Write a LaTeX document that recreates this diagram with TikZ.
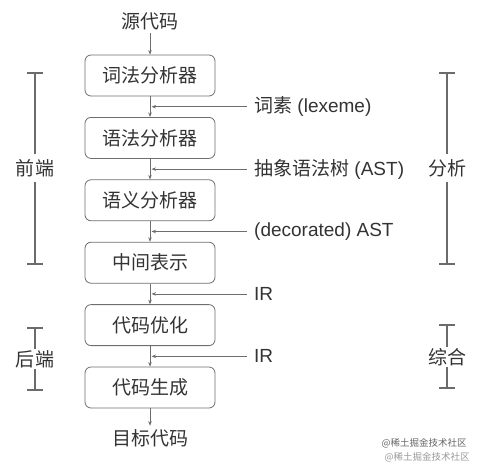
\documentclass[tikz,border=0pt]{standalone}
\usepackage{fontspec}
\setmainfont{Liberation Sans}
\newfontfamily\cjk{Noto Sans CJK SC}
\usetikzlibrary{
  arrows.meta % Stealth 箭头
}
\definecolor{boxgray}{HTML}{6E6E6E}
\definecolor{txtgray}{HTML}{333333}
\definecolor{bargray}{HTML}{6B6B6B}

\begin{document}
\begin{tikzpicture}[x=1pt, y=-1pt, >={Stealth[length=4.5pt, width=3.5pt]},
    stage/.style={draw=boxgray, line width=0.8pt, rounded corners=6pt,
      minimum width=130pt, minimum height=41pt, text=txtgray,
      font=\cjk\fontsize{19}{22}\selectfont},
    plain/.style={text=txtgray, font=\fontsize{19}{22}\selectfont},
    flow/.style={draw=boxgray, line width=0.6pt, ->},
    bracket/.style={draw=bargray, line width=2pt},
    sidetag/.style={text=txtgray, font=\cjk\fontsize{19}{22}\selectfont,
      inner xsep=0pt, inner ysep=5pt}]
    \useasboundingbox (0,0) rectangle (486,474);

    % 各阶段方框
    \foreach \name/\txt [count=\i] in {lex/词法分析器, syn/语法分析器,
        sem/语义分析器, ir/中间表示, opt/代码优化, gen/代码生成}
      \node[stage] (\name) at (150, {75.5+62.4*(\i-1)}) {\txt};

    % 输入与输出
    \node[plain] (src) at (150, 21) {\cjk 源代码};
    \node[plain] (dst) at (150, 438) {\cjk 目标代码};

    % 纵向箭头
    \draw[flow] (src) -- (lex);
    \draw[flow] (lex) -- (syn);
    \draw[flow] (syn) -- (sem);
    \draw[flow] (sem) -- (ir);
    \draw[flow] (ir) -- (opt);
    \draw[flow] (opt) -- (gen);
    \draw[flow] (gen) -- (dst);

    % 中间产物与横向箭头
    \foreach \txt [count=\i] in {{\cjk 词素} (lexeme), {\cjk 抽象语法树} (AST),
        (decorated) AST, IR, IR} {
      \coordinate (hit\i) at (151.5, {106.7+62.4*(\i-1)});
      \node[plain, anchor=west, inner xsep=7pt, inner ysep=0pt] (out\i)
        at (247, {106.7+62.4*(\i-1)}) {\txt};
      \draw[flow] (out\i.west) -- (hit\i);
    }

    % 前端
    \coordinate (fetop) at (35, 73);
    \coordinate (febot) at (35, 264);
    \node[sidetag] (fe) at (35, 168) {前端};
    \draw[bracket] ([xshift=-8pt]fetop) -- ([xshift=8pt]fetop);
    \draw[bracket] ([xshift=-8pt]febot) -- ([xshift=8pt]febot);
    \draw[bracket] (fetop) -- (fe.north);
    \draw[bracket] (fe.south) -- (febot);

    % 分析
    \coordinate (antop) at (447, 73);
    \coordinate (anbot) at (447, 264);
    \node[sidetag] (an) at (447, 168) {分析};
    \draw[bracket] ([xshift=-8pt]antop) -- ([xshift=8pt]antop);
    \draw[bracket] ([xshift=-8pt]anbot) -- ([xshift=8pt]anbot);
    \draw[bracket] (antop) -- (an.north);
    \draw[bracket] (an.south) -- (anbot);

    % 后端
    \coordinate (betop) at (35, 328);
    \coordinate (bebot) at (35, 390);
    \node[sidetag, inner ysep=1.5pt] (be) at (35, 359) {后端};
    \draw[bracket] ([xshift=-8pt]betop) -- ([xshift=8pt]betop);
    \draw[bracket] ([xshift=-8pt]bebot) -- ([xshift=8pt]bebot);
    \draw[bracket] (betop) -- (be.north);
    \draw[bracket] (be.south) -- (bebot);

    % 综合
    \coordinate (sytop) at (447, 325);
    \coordinate (sybot) at (447, 388);
    \node[sidetag, inner ysep=1.5pt] (sy) at (447, 357) {综合};
    \draw[bracket] ([xshift=-8pt]sytop) -- ([xshift=8pt]sytop);
    \draw[bracket] ([xshift=-8pt]sybot) -- ([xshift=8pt]sybot);
    \draw[bracket] (sytop) -- (sy.north);
    \draw[bracket] (sy.south) -- (sybot);

    % 水印
    \node[text=black!60, font=\cjk\fontsize{9.5}{11}\selectfont] (wm1)
      at (424, 443) {@稀土掘金技术社区};
    \node[text=black!40, font=\cjk\fontsize{9.5}{11}\selectfont] (wm2)
      at (427, 457) {@稀土掘金技术社区};
\end{tikzpicture}
\end{document}
